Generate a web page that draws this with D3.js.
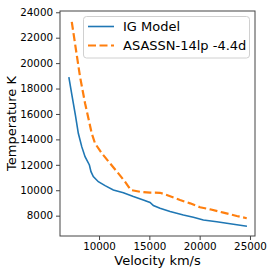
<!DOCTYPE html>
<html><head><meta charset="utf-8">
<script src="https://cdn.jsdelivr.net/npm/d3@7"></script>
<style>html,body{margin:0;padding:0;background:#fff;}svg{display:block;font-family:"DejaVu Sans",sans-serif;}</style>
</head><body>
<svg id="c" width="274" height="274"></svg>
<script>
const modelVel = [7000, 7300, 7650, 7940, 8280, 8610, 9040, 9200, 9430, 9930, 10600, 11420, 12420, 13410, 14400, 15070, 15400, 16060, 17060, 18380, 19370, 20370, 21700, 23360, 24700];
const modelTemp = [18900, 17500, 15900, 14480, 13430, 12640, 11990, 11460, 11070, 10670, 10360, 10020, 9810, 9500, 9230, 9040, 8800, 8580, 8320, 8050, 7870, 7660, 7520, 7320, 7170];
const obsVel = [7290, 7610, 8110, 8610, 9100, 9270, 9600, 10270, 11090, 11920, 12580, 13150, 14080, 15070, 16060, 16730, 18050, 19050, 20040, 21030, 22360, 23690, 24680];
const obsTemp = [23250, 21560, 18930, 16840, 15100, 14480, 13690, 12910, 12120, 11330, 10670, 10020, 9880, 9810, 9800, 9630, 9230, 8970, 8660, 8500, 8240, 7970, 7800];
const xTicks = [10000, 15000, 20000, 25000];
const yTicks = [8000, 10000, 12000, 14000, 16000, 18000, 20000, 22000, 24000];
const seriesNames = ["IG Model", "ASASSN-14lp -4.4d"];

const svg = d3.select("#c");
const L = 60, R = 255, T = 11, B = 236;
const x = d3.scaleLinear().domain([6120, 25500]).range([L, R]);
const y = d3.scaleLinear().domain([6400, 24100]).range([B, T]);

const line = d3.line().x(d => x(d[0])).y(d => y(d[1]));
const model = modelVel.map((v, i) => [v, modelTemp[i]]);
const obs = obsVel.map((v, i) => [v, obsTemp[i]]);

svg.append("path").attr("d", line(model)).attr("fill", "none")
  .attr("stroke", "#1f77b4").attr("stroke-width", 1.6);
svg.append("path").attr("d", line(obs)).attr("fill", "none")
  .attr("stroke", "#ff7f0e").attr("stroke-width", 2.2).attr("stroke-dasharray", "8,3.5");

const xa = svg.append("g").attr("transform", `translate(0,${B})`)
  .call(d3.axisBottom(x).tickValues(xTicks).tickFormat(d3.format("d")).tickSize(4).tickPadding(3));
const ya = svg.append("g").attr("transform", `translate(${L},0)`)
  .call(d3.axisLeft(y).tickValues(yTicks).tickFormat(d3.format("d")).tickSize(4).tickPadding(3));
[xa, ya].forEach(a => {
  a.select(".domain").remove();
  a.selectAll("line").attr("stroke", "#444");
  a.selectAll("text").attr("font-size", 10.3).attr("fill", "#000").attr("font-family", "DejaVu Sans");
});

svg.append("rect").attr("x", L).attr("y", T).attr("width", R - L).attr("height", B - T)
  .attr("fill", "none").attr("stroke", "#444").attr("stroke-width", 1);

svg.append("text").attr("x", (L + R) / 2).attr("y", 265).attr("text-anchor", "middle")
  .attr("font-size", 13).text("Velocity km/s");
svg.append("text").attr("transform", `translate(16,${(T + B) / 2}) rotate(-90)`)
  .attr("text-anchor", "middle").attr("font-size", 13).text("Temperature K");

const lg = svg.append("g");
lg.append("rect").attr("x", 83.5).attr("y", 16.5).attr("width", 166).attr("height", 41.5)
  .attr("rx", 3).attr("fill", "#fff").attr("fill-opacity", 0.8).attr("stroke", "#d0d0d0");
lg.append("line").attr("x1", 88).attr("x2", 114).attr("y1", 26.5).attr("y2", 26.5)
  .attr("stroke", "#1f77b4").attr("stroke-width", 1.6);
lg.append("line").attr("x1", 88).attr("x2", 114).attr("y1", 45.5).attr("y2", 45.5)
  .attr("stroke", "#ff7f0e").attr("stroke-width", 2.2).attr("stroke-dasharray", "8,3.5");
lg.selectAll("text.l").data(seriesNames).enter().append("text")
  .attr("x", 123).attr("y", (d, i) => 31 + i * 19).attr("font-size", 13).text(d => d);
</script>
</body></html>
